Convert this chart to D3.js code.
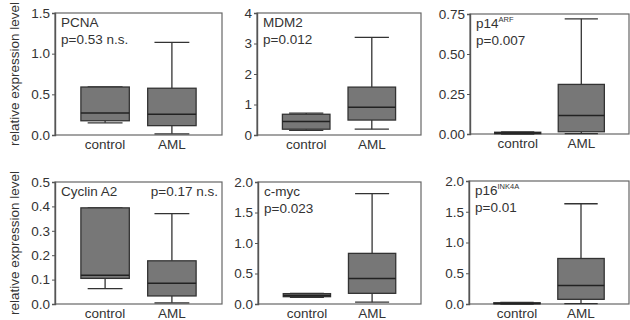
<!DOCTYPE html>
<html>
<head>
<meta charset="utf-8">
<script src="https://cdn.jsdelivr.net/npm/d3@7"></script>
<style>
body { margin: 0; background: #fff; }
text { font-family: "Liberation Sans", Arial, sans-serif; fill: #333; }
</style>
</head>
<body>
<svg id="fig" width="630" height="320"></svg>
<script>
// panel names (main part + superscript)
var genes = ["PCNA", "MDM2", "p14", "Cyclin A2", "c-myc", "p16"];
var geneSup = ["", "", "ARF", "", "", "INK4A"];
var pLabels = ["p=0.53 n.s.", "p=0.012", "p=0.007", "p=0.17 n.s.", "p=0.023", "p=0.01"];
var groups = ["control", "AML"];

// box stats: [min, q1, median, q3, max]
var controlStats = [
    [0.15, 0.175, 0.27, 0.59, 0.59],
    [0.15, 0.19, 0.44, 0.68, 0.72],
    [0.0, 0.002, 0.006, 0.011, 0.013],
    [0.063, 0.105, 0.118, 0.394, 0.394],
    [0.11, 0.12, 0.14, 0.17, 0.175],
    [0.0, 0.005, 0.01, 0.02, 0.025]
];
var amlStats = [
    [0.015, 0.115, 0.255, 0.575, 1.14],
    [0.19, 0.49, 0.91, 1.57, 3.2],
    [0.002, 0.014, 0.116, 0.31, 0.72],
    [0.005, 0.033, 0.085, 0.177, 0.37],
    [0.03, 0.175, 0.42, 0.83, 1.81],
    [0.005, 0.076, 0.30, 0.74, 1.63]
];

// y axis ticks
var yTicks = [
    [0, 0.5, 1.0, 1.5],
    [0, 1, 2, 3, 4],
    [0, 0.25, 0.5, 0.75],
    [0, 0.1, 0.2, 0.3, 0.4, 0.5],
    [0, 0.5, 1.0, 1.5, 2.0],
    [0, 0.5, 1.0, 1.5, 2.0]
];
var tickFormats = [".1f", ".0f", ".2f", ".1f", ".1f", ".1f"];

// panel frames [x0, x1, y0, y1]
var panels = [
    [55, 222, 13, 135],
    [257, 421, 13, 135],
    [470, 629, 14, 134],
    [55, 222, 182, 304],
    [258, 421, 182, 304],
    [469, 629, 181, 304]
];

var svg = d3.select("#fig");

for (var i = 0; i < 6; i++) {
    var p = panels[i];
    var g = svg.append("g");

    var x = d3.scalePoint().domain(groups).range([p[0], p[1]]).padding(0.75);
    var y = d3.scaleLinear()
        .domain([0, yTicks[i][yTicks[i].length - 1]])
        .range([p[3], p[2]]);
    var bw = (p[1] - p[0]) * 0.29;

    // frame
    g.append("rect")
        .attr("x", p[0]).attr("y", p[2])
        .attr("width", p[1] - p[0]).attr("height", p[3] - p[2])
        .attr("fill", "none")
        .attr("stroke", "#666")
        .attr("stroke-width", 1.2);

    // y axis
    var axis = g.append("g")
        .attr("transform", "translate(" + p[0] + ",0)")
        .call(d3.axisLeft(y).tickValues(yTicks[i])
            .tickFormat(d3.format(tickFormats[i]))
            .tickSize(3).tickPadding(2));
    axis.select(".domain").attr("stroke", "#555").attr("stroke-width", 1.4);
    axis.selectAll(".tick line").attr("stroke", "#555");
    axis.selectAll(".tick text")
        .attr("font-size", 13.5)
        .attr("fill", "#333")
        .attr("font-family", "Liberation Sans, Arial, sans-serif");

    // x labels
    g.selectAll(".xl").data(groups).enter().append("text")
        .attr("x", function (d) { return x(d); })
        .attr("y", p[3] + 13.5)
        .attr("text-anchor", "middle")
        .attr("font-size", 13.5)
        .text(function (d) { return d; });

    // boxes
    var stats = [controlStats[i], amlStats[i]];
    stats.forEach(function (s, j) {
        var cx = x(groups[j]);
        var cap = bw * 0.72;
        var bg = g.append("g").attr("stroke", "#333").attr("stroke-width", 1.3);
        // whiskers
        bg.append("line")
            .attr("x1", cx).attr("x2", cx)
            .attr("y1", y(s[0])).attr("y2", y(s[1]));
        bg.append("line")
            .attr("x1", cx).attr("x2", cx)
            .attr("y1", y(s[3])).attr("y2", y(s[4]));
        bg.append("line")
            .attr("x1", cx - cap / 2).attr("x2", cx + cap / 2)
            .attr("y1", y(s[0])).attr("y2", y(s[0]));
        bg.append("line")
            .attr("x1", cx - cap / 2).attr("x2", cx + cap / 2)
            .attr("y1", y(s[4])).attr("y2", y(s[4]));
        // box
        bg.append("rect")
            .attr("x", cx - bw / 2)
            .attr("y", y(s[3]))
            .attr("width", bw)
            .attr("height", Math.max(1, y(s[1]) - y(s[3])))
            .attr("fill", "#777");
        // median
        bg.append("line")
            .attr("x1", cx - bw / 2).attr("x2", cx + bw / 2)
            .attr("y1", y(s[2])).attr("y2", y(s[2]))
            .attr("stroke", "#222")
            .attr("stroke-width", 1.5);
    });

    // annotation
    var geneText = g.append("text")
        .attr("x", p[0] + 6)
        .attr("y", p[2] + 14)
        .attr("font-size", 13.5)
        .text(genes[i]);
    if (geneSup[i]) {
        geneText.append("tspan")
            .attr("dy", -6)
            .attr("font-size", 7.5)
            .text(geneSup[i]);
    }
    if (i === 3) {
        g.append("text")
            .attr("x", p[1] - 4)
            .attr("y", p[2] + 14)
            .attr("text-anchor", "end")
            .attr("font-size", 13.5)
            .text(pLabels[i]);
    } else {
        g.append("text")
            .attr("x", p[0] + 6)
            .attr("y", p[2] + 31)
            .attr("font-size", 13.5)
            .text(pLabels[i]);
    }
}

// y axis titles
[74, 243].forEach(function (cy) {
    svg.append("text")
        .attr("transform", "translate(19," + cy + ") rotate(-90)")
        .attr("text-anchor", "middle")
        .attr("font-size", 13.5)
        .text("relative expression level");
});
</script>
</body>
</html>
